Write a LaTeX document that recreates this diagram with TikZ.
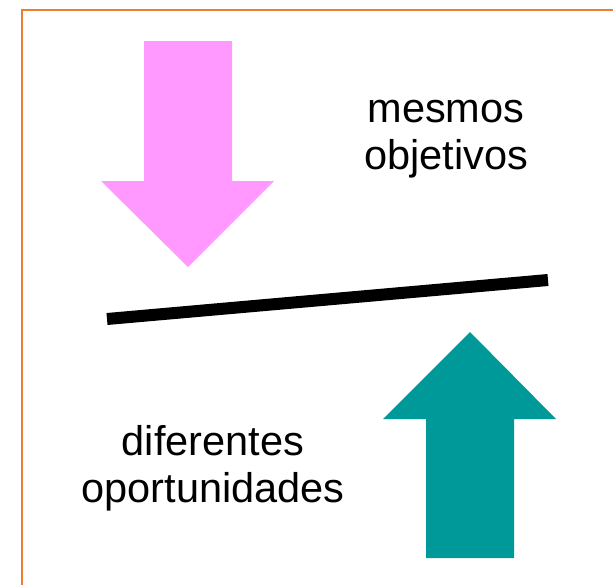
\documentclass[tikz,border=0pt]{standalone}
\usepackage{fontspec}
\setmainfont{Liberation Sans}
\usepackage{xcolor}
\usepackage{tikz}
\usetikzlibrary{positioning}

\definecolor{frame_orange}{HTML}{ED7D31}
\definecolor{arrow_pink}{HTML}{FF99FF}
\definecolor{arrow_teal}{HTML}{009999}

\begin{document}
\begin{tikzpicture}[
      x=1pt, y=-1pt,
      frame_box/.style={
        draw=frame_orange,
        line width=2pt,
        },
      big_arrow/.style={
        draw=none,
        },
      bar_line/.style={
        draw=black,
        line width=12pt,
        line cap=butt,
        },
      label_text/.style={
        inner sep=0pt,
        anchor=base,
        font=\fontsize{41.5}{47}\selectfont,
        }
]
      \useasboundingbox (0,0) rectangle (613,584);
      \clip (0,0) rectangle (613,584);

      %frame
      \draw[frame_box] (22,10) rectangle (640,620);

      %arrows
      \fill[big_arrow,fill=arrow_pink] (144,41) -- (232,41) -- (232,181) -- (274,181)
        -- (188,267) -- (101,181) -- (144,181) -- cycle;
      \fill[big_arrow,fill=arrow_teal] (426,558) -- (514,558) -- (514,419) -- (556,419)
        -- (470,332) -- (383,419) -- (426,419) -- cycle;

      %balance
      \coordinate (bar_left) at (107,319);
      \coordinate (bar_right) at (548,280);
      \draw[bar_line] (bar_left) -- (bar_right);

      %texts
      \node[label_text] (mesmos) at (446,122) {mesmos};
      \node[label_text] (objetivos) at (446,169) {objetivos};
      \node[label_text] (diferentes) at (213,455) {diferentes};
      \node[label_text] (oportunidades) at (213,502) {oportunidades};

\end{tikzpicture}
\end{document}
